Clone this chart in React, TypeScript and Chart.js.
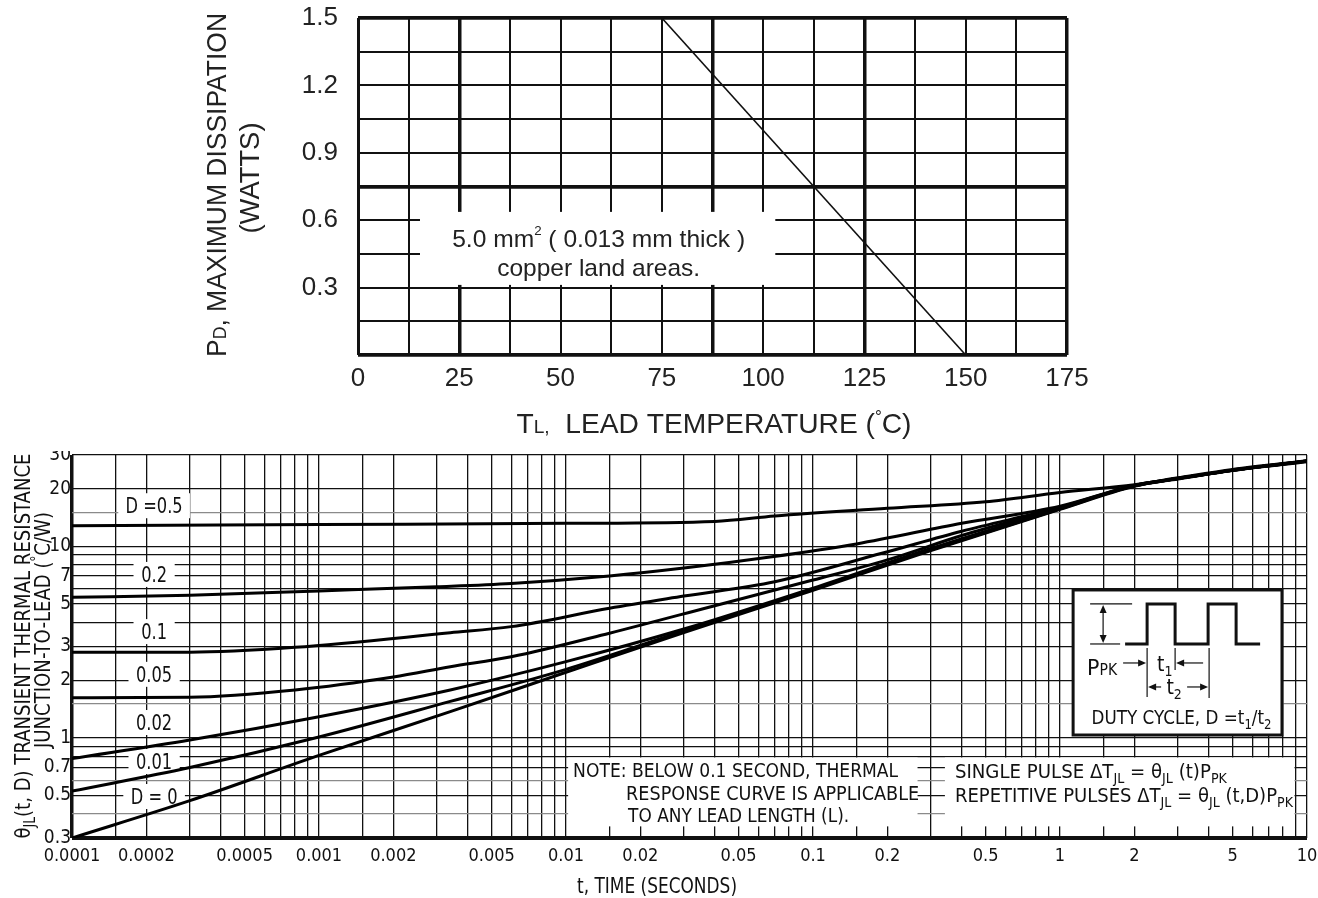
import React, { useEffect, useRef } from 'react';
import { Chart, registerables } from 'chart.js';

Chart.register(...registerables);

// ---------------- Top chart: power derating ----------------
const topTemps = [75, 150];
const topPower = [1.5, 0];
const topXGrid = [0, 12.5, 25, 37.5, 50, 62.5, 75, 87.5, 100, 112.5, 125, 137.5, 150, 162.5, 175];
const topXLabels = [0, 25, 50, 75, 100, 125, 150, 175];
const topXThick = [25, 87.5, 125, 175];
const topYGrid = [0, 0.15, 0.3, 0.45, 0.6, 0.75, 0.9, 1.05, 1.2, 1.35, 1.5];
const topYLabels = [0.3, 0.6, 0.9, 1.2, 1.5];
const topYThick = [0, 0.75, 1.5];

// ---------------- Bottom chart: transient thermal resistance ----------------
const gridMantissas = [1, 1.5, 2, 3, 4, 5, 6, 7, 8, 9];
const timeDecades = [0.0001, 0.001, 0.01, 0.1, 1];
const timeLabels = [0.0001, 0.0002, 0.0005, 0.001, 0.002, 0.005, 0.01, 0.02, 0.05, 0.1, 0.2, 0.5, 1, 2, 5, 10];
const resistGrid = [0.3, 0.4, 0.5, 0.6, 0.7, 0.8, 0.9, 1, 1.5, 2, 3, 4, 5, 6, 7, 8, 9, 10, 15, 20, 30];
const resistLabels = [0.3, 0.5, 0.7, 1, 2, 3, 5, 7, 10, 20, 30];
const resistGray = [0.4, 0.6, 1.5, 15];

const dutyNames = ['D =0.5', '0.2', '0.1', '0.05', '0.02', '0.01', 'D = 0'];

const timeD05 = [0.0001, 0.001, 0.01, 0.04, 0.07, 0.2, 0.5, 1, 2, 3, 5, 10];
const resD05 = [12.8, 13.0, 13.2, 13.5, 14.4, 15.8, 17.1, 19.1, 21.0, 22.8, 25.2, 28.0];

const timeD02 = [0.0001, 0.0003, 0.001, 0.003, 0.006, 0.015, 0.03, 0.067, 0.15, 0.4, 1, 2, 3, 5, 10];
const resD02 = [5.42, 5.55, 5.85, 6.15, 6.4, 7.0, 7.7, 8.8, 10.3, 13.2, 16.2, 20.8, 22.6, 25.0, 27.9];

const timeD01 = [0.0001, 0.0003, 0.0008, 0.0034, 0.006, 0.015, 0.03, 0.07, 0.19, 0.4, 1, 2, 3, 5, 10];
const resD01 = [2.8, 2.8, 2.97, 3.54, 3.81, 4.75, 5.5, 6.54, 9.2, 12.0, 16.0, 20.8, 22.6, 25.0, 27.9];

const timeD005 = [0.0001, 0.0003, 0.0008, 0.002, 0.0034, 0.006, 0.015, 0.04, 0.1, 0.2, 0.4, 1, 2, 3, 5, 10];
const resD005 = [1.62, 1.63, 1.78, 2.08, 2.35, 2.65, 3.52, 4.9, 6.67, 8.5, 11.4, 15.9, 20.7, 22.6, 25.0, 27.9];

const timeD002 = [0.0001, 0.0003, 0.001, 0.0034, 0.01, 0.03, 0.1, 0.3, 1, 2, 3, 5, 10];
const resD002 = [0.78, 0.975, 1.29, 1.78, 2.5, 3.7, 6.05, 9.75, 15.8, 20.7, 22.6, 25.0, 27.8];

const timeD001 = [0.0001, 0.0003, 0.001, 0.0034, 0.01, 0.03, 0.1, 0.3, 1, 2, 3, 5, 10];
const resD001 = [0.527, 0.7, 1.01, 1.55, 2.28, 3.62, 5.98, 9.6, 15.7, 20.7, 22.6, 25.0, 27.8];

const timeD0 = [0.0001, 0.0003, 0.001, 0.0034, 0.01, 0.03, 0.1, 0.3, 1, 2, 3, 5, 10];
const resD0 = [0.3, 0.47, 0.81, 1.37, 2.2, 3.55, 5.9, 9.5, 15.6, 20.6, 22.5, 24.9, 27.7];

const dutyTimes = [timeD05, timeD02, timeD01, timeD005, timeD002, timeD001, timeD0];
const dutyRes = [resD05, resD02, resD01, resD005, resD002, resD001, resD0];

const labelTime = 0.000215;
const labelRes = [16.4, 7.18, 3.61, 2.16, 1.21, 0.757, 0.497];

// ---------------- helpers ----------------
const SANS = "'Liberation Sans', Arial, Helvetica, sans-serif";
const NARROW = "'Liberation Sans Narrow', 'Arial Narrow', 'DejaVu Sans Condensed', 'Liberation Sans', sans-serif";
const INK = '#111';

function inList(v: number, list: number[]): boolean {
  for (const l of list) {
    if (l === 0 ? v === 0 : Math.abs(v - l) <= Math.abs(l) * 1e-6) return true;
  }
  return false;
}
function labelOf(v: number, list: number[]): string {
  for (const l of list) {
    if (l === 0 ? v === 0 : Math.abs(v - l) <= Math.abs(l) * 1e-6) return String(l);
  }
  return '';
}

type Seg = { t: string; s: number; dy?: number };

function richWidth(ctx: CanvasRenderingContext2D, segs: Seg[], family: string) {
  let total = 0;
  for (const sg of segs) {
    ctx.font = `${sg.s}px ${family}`;
    total += ctx.measureText(sg.t).width;
  }
  return total;
}

// draws a run of text segments; if targetW is given, the run is squeezed/stretched horizontally to it
function drawRich(
  ctx: CanvasRenderingContext2D,
  segs: Seg[],
  x: number,
  y: number,
  family: string,
  align: 'left' | 'center' | 'right' = 'left',
  targetW?: number,
) {
  const natural = richWidth(ctx, segs, family);
  const k = targetW ? targetW / natural : 1;
  const total = natural * k;
  const startX = align === 'left' ? x : align === 'center' ? x - total / 2 : x - total;
  ctx.save();
  ctx.translate(startX, y);
  ctx.scale(k, 1);
  ctx.textAlign = 'left';
  ctx.textBaseline = 'alphabetic';
  let cx = 0;
  for (const sg of segs) {
    ctx.font = `${sg.s}px ${family}`;
    ctx.fillText(sg.t, cx, sg.dy || 0);
    cx += ctx.measureText(sg.t).width;
  }
  ctx.restore();
}

function drawRotated(
  ctx: CanvasRenderingContext2D,
  segs: Seg[],
  cx: number,
  cy: number,
  family: string,
  capSize: number,
  targetW?: number,
) {
  ctx.save();
  ctx.translate(cx, cy);
  ctx.rotate(-Math.PI / 2);
  drawRich(ctx, segs, 0, capSize * 0.36, family, 'center', targetW);
  ctx.restore();
}

function line(ctx: CanvasRenderingContext2D, x1: number, y1: number, x2: number, y2: number) {
  ctx.beginPath();
  ctx.moveTo(x1, y1);
  ctx.lineTo(x2, y2);
  ctx.stroke();
}

function head(ctx: CanvasRenderingContext2D, x: number, y: number, dir: 'l' | 'r' | 'u' | 'd') {
  const L = 8;
  const W = 3.5;
  ctx.beginPath();
  ctx.moveTo(x, y);
  if (dir === 'r') { ctx.lineTo(x - L, y - W); ctx.lineTo(x - L, y + W); }
  if (dir === 'l') { ctx.lineTo(x + L, y - W); ctx.lineTo(x + L, y + W); }
  if (dir === 'u') { ctx.lineTo(x - W, y + L); ctx.lineTo(x + W, y + L); }
  if (dir === 'd') { ctx.lineTo(x - W, y - L); ctx.lineTo(x + W, y - L); }
  ctx.closePath();
  ctx.fill();
}

// ---------------- top chart config ----------------
function topConfig(): any {
  const decor = {
    id: 'topDecor',
    beforeDatasetsDraw(chart: any) {
      const { ctx } = chart;
      const xs = chart.scales.x;
      const ys = chart.scales.y;
      const x0 = xs.getPixelForValue(15.3);
      const x1 = xs.getPixelForValue(103);
      const y0 = ys.getPixelForValue(0.637);
      const y1 = ys.getPixelForValue(0.312);
      ctx.save();
      ctx.fillStyle = '#fff';
      ctx.fillRect(x0, y0, x1 - x0, y1 - y0);
      ctx.fillStyle = '#222';
      const mid = (x0 + x1) / 2 + 1;
      drawRich(ctx, [
        { t: '5.0 mm', s: 24 },
        { t: '2', s: 13, dy: -12 },
        { t: ' ( 0.013 mm thick )', s: 24 },
      ], mid, y0 + 35, SANS, 'center', 293);
      drawRich(ctx, [{ t: 'copper land areas.', s: 24 }], mid, y0 + 64, SANS, 'center', 203);
      ctx.restore();
    },
    afterDraw(chart: any) {
      const { ctx } = chart;
      ctx.save();
      ctx.fillStyle = '#222';
      drawRich(ctx, [
        { t: 'T', s: 28 },
        { t: 'L,', s: 19 },
        { t: '  LEAD TEMPERATURE (', s: 28 },
        { t: '°', s: 17, dy: -11 },
        { t: 'C)', s: 28 },
      ], 714, 433, SANS, 'center', 395);
      drawRotated(ctx, [
        { t: 'P', s: 27 },
        { t: 'D', s: 18 },
        { t: ', MAXIMUM DISSIPATION', s: 27 },
      ], 216, 185, SANS, 27, 344);
      drawRotated(ctx, [{ t: '(WATTS)', s: 27 }], 249, 178, SANS, 27, 111);
      ctx.restore();
    },
  };

  return {
    type: 'line',
    data: {
      datasets: [
        {
          data: topTemps.map((t, i) => ({ x: t, y: topPower[i] })),
          borderColor: INK,
          borderWidth: 1.6,
          pointRadius: 0,
          fill: false,
        },
      ],
    },
    options: {
      responsive: false,
      animation: false,
      devicePixelRatio: 1,
      layout: { padding: { left: 298, right: 251, top: 18, bottom: 25 } },
      plugins: { legend: { display: false }, tooltip: { enabled: false } },
      scales: {
        x: {
          type: 'linear',
          min: 0,
          max: 175,
          afterBuildTicks: (s: any) => { s.ticks = topXGrid.map((v) => ({ value: v })); },
          afterFit: (s: any) => { s.height = 60; s.paddingLeft = 0; s.paddingRight = 0; s.paddingTop = 0; s.paddingBottom = 0; },
          border: { display: false },
          grid: {
            drawTicks: false,
            color: INK,
            lineWidth: (c: any) => (c.tick && inList(c.tick.value, topXThick) ? 3.5 : c.tick && c.tick.value === 0 ? 3 : 2),
          },
          ticks: {
            autoSkip: false,
            maxRotation: 0,
            minRotation: 0,
            padding: 8,
            color: '#222',
            font: { family: SANS, size: 26 },
            callback: (v: any) => labelOf(Number(v), topXLabels),
          },
        },
        y: {
          type: 'linear',
          min: 0,
          max: 1.5,
          afterBuildTicks: (s: any) => { s.ticks = topYGrid.map((v) => ({ value: v })); },
          afterFit: (s: any) => { s.width = 60; s.paddingLeft = 0; s.paddingRight = 0; s.paddingTop = 0; s.paddingBottom = 0; },
          border: { display: false },
          grid: {
            drawTicks: false,
            color: INK,
            lineWidth: (c: any) => (c.tick && inList(c.tick.value, topYThick) ? 3.8 : 2),
          },
          ticks: {
            autoSkip: false,
            padding: 20,
            color: '#222',
            font: { family: SANS, size: 26 },
            callback: (v: any) => labelOf(Number(v), topYLabels),
          },
        },
      },
    },
    plugins: [decor],
  };
}

// ---------------- bottom chart config ----------------
function botConfig(): any {
  const timeGrid: number[] = [];
  for (const d of timeDecades) for (const m of gridMantissas) timeGrid.push(Number((m * d).toPrecision(6)));
  timeGrid.push(10);

  const decor = {
    id: 'botDecor',
    beforeDatasetsDraw(chart: any) {
      const { ctx } = chart;
      const xs = chart.scales.x;
      const ys = chart.scales.y;
      ctx.save();
      ctx.fillStyle = '#fff';
      // curve label backgrounds
      ctx.font = `20px ${NARROW}`;
      dutyNames.forEach((name, i) => {
        const px = xs.getPixelForValue(labelTime);
        const py = ys.getPixelForValue(labelRes[i]);
        const w = ctx.measureText(name).width * 0.88;
        ctx.fillRect(px - w / 2 - 8, py - 12, w + 16, 25);
      });
      // note boxes
      const yTop = ys.getPixelForValue(0.79);
      const yBot = ys.getPixelForValue(0.345);
      const n0 = xs.getPixelForValue(0.0102);
      const n1 = xs.getPixelForValue(0.265);
      ctx.fillRect(n0, yTop, n1 - n0, yBot - yTop);
      const r0 = xs.getPixelForValue(0.342);
      const r1 = xs.getPixelForValue(8.9);
      ctx.fillRect(r0, yTop, r1 - r0, yBot - yTop);
      ctx.restore();
    },
    afterDatasetsDraw(chart: any) {
      const { ctx } = chart;
      const xs = chart.scales.x;
      const ys = chart.scales.y;
      const off = chart.canvas.offsetTop || 451;
      ctx.save();
      ctx.fillStyle = INK;
      ctx.strokeStyle = INK;
      // curve labels
      dutyNames.forEach((name, i) => {
        drawRich(ctx, [{ t: name, s: 21 }], xs.getPixelForValue(labelTime), ys.getPixelForValue(labelRes[i]) + 8, NARROW, 'center',
          richWidth(ctx, [{ t: name, s: 21 }], NARROW) * 0.86);
      });

      // note texts
      const nx = xs.getPixelForValue(0.0102);
      drawRich(ctx, [{ t: 'NOTE: BELOW 0.1 SECOND, THERMAL', s: 20 }], nx + 5, 777 - off, NARROW, 'left', 325);
      drawRich(ctx, [{ t: 'RESPONSE CURVE IS APPLICABLE', s: 20 }], nx + 58, 800 - off, NARROW, 'left', 293);
      drawRich(ctx, [{ t: 'TO ANY LEAD LENGTH (L).', s: 20 }], nx + 60, 822 - off, NARROW, 'left', 221);

      const rx = xs.getPixelForValue(0.342);
      drawRich(ctx, [
        { t: 'SINGLE PULSE \u0394T', s: 20 },
        { t: 'JL', s: 14, dy: 5 },
        { t: ' = \u03b8', s: 20 },
        { t: 'JL', s: 14, dy: 5 },
        { t: ' (t)P', s: 20 },
        { t: 'PK', s: 14, dy: 5 },
      ], rx + 10, 778 - off, NARROW, 'left', 272);
      drawRich(ctx, [
        { t: 'REPETITIVE PULSES \u0394T', s: 20 },
        { t: 'JL', s: 14, dy: 5 },
        { t: ' = \u03b8', s: 20 },
        { t: 'JL', s: 14, dy: 5 },
        { t: ' (t,D)P', s: 20 },
        { t: 'PK', s: 14, dy: 5 },
      ], rx + 10, 802 - off, NARROW, 'left', 338);

      // duty cycle inset
      const L = xs.getPixelForValue(1.13);
      const R = xs.getPixelForValue(7.92);
      const T = ys.getPixelForValue(5.92);
      const B = ys.getPixelForValue(1.035);
      ctx.fillStyle = '#fff';
      ctx.fillRect(L, T, R - L, B - T);
      ctx.fillStyle = INK;
      ctx.lineWidth = 3;
      ctx.strokeRect(L, T, R - L, B - T);
      // waveform
      ctx.lineWidth = 3;
      ctx.lineJoin = 'miter';
      ctx.beginPath();
      ctx.moveTo(L + 52, T + 54);
      ctx.lineTo(L + 74, T + 54);
      ctx.lineTo(L + 74, T + 14);
      ctx.lineTo(L + 102, T + 14);
      ctx.lineTo(L + 102, T + 54);
      ctx.lineTo(L + 135, T + 54);
      ctx.lineTo(L + 135, T + 14);
      ctx.lineTo(L + 163, T + 14);
      ctx.lineTo(L + 163, T + 54);
      ctx.lineTo(L + 187, T + 54);
      ctx.stroke();
      // thin construction lines
      ctx.lineWidth = 1.2;
      line(ctx, L + 17, T + 14, L + 59, T + 14);
      line(ctx, L + 17, T + 54, L + 47, T + 54);
      line(ctx, L + 30, T + 20, L + 30, T + 48);
      head(ctx, L + 30, T + 15, 'u');
      head(ctx, L + 30, T + 53, 'd');
      line(ctx, L + 74, T + 58, L + 74, T + 107);
      line(ctx, L + 102, T + 58, L + 102, T + 80);
      line(ctx, L + 136, T + 58, L + 136, T + 108);
      line(ctx, L + 50, T + 73, L + 66, T + 73);
      head(ctx, L + 73, T + 73, 'r');
      line(ctx, L + 110, T + 73, L + 130, T + 73);
      head(ctx, L + 103, T + 73, 'l');
      line(ctx, L + 81, T + 97, L + 88, T + 97);
      head(ctx, L + 75, T + 97, 'l');
      line(ctx, L + 114, T + 97, L + 128, T + 97);
      head(ctx, L + 135, T + 97, 'r');
      drawRich(ctx, [{ t: 'P', s: 22 }, { t: 'PK', s: 15 }], L + 14, T + 85, NARROW, 'left', 30);
      drawRich(ctx, [{ t: 't', s: 21 }, { t: '1', s: 14, dy: 5 }], L + 84, T + 81, NARROW, 'left');
      drawRich(ctx, [{ t: 't', s: 21 }, { t: '2', s: 14, dy: 5 }], L + 101, T + 104, NARROW, 'center');
      drawRich(ctx, [
        { t: 'DUTY CYCLE, D =t', s: 20 },
        { t: '1', s: 14, dy: 5 },
        { t: '/t', s: 20 },
        { t: '2', s: 14, dy: 5 },
      ], (L + R) / 2 + 4, T + 134, NARROW, 'center', 180);
      ctx.restore();
    },
    afterDraw(chart: any) {
      const { ctx } = chart;
      const off = chart.canvas.offsetTop || 451;
      ctx.save();
      ctx.fillStyle = INK;
      drawRich(ctx, [{ t: 't, TIME (SECONDS)', s: 21 }], 657, 893 - off, NARROW, 'center', 160);
      drawRotated(ctx, [
        { t: '\u03b8', s: 22 },
        { t: 'JL', s: 15, dy: 5 },
        { t: '(t, D) TRANSIENT THERMAL RESISTANCE', s: 22 },
      ], 22, 646 - off, NARROW, 22, 385);
      drawRotated(ctx, [
        { t: 'JUNCTION-TO-LEAD (', s: 22 },
        { t: '°', s: 14, dy: -9 },
        { t: 'C/W)', s: 22 },
      ], 42, 630 - off, NARROW, 22, 236);
      ctx.restore();
    },
  };

  return {
    type: 'line',
    data: {
      datasets: dutyNames.map((name, i) => ({
        label: name,
        data: dutyTimes[i].map((t, j) => ({ x: t, y: dutyRes[i][j] })),
        borderColor: '#000',
        borderWidth: 3,
        pointRadius: 0,
        fill: false,
        cubicInterpolationMode: 'monotone',
      })),
    },
    options: {
      responsive: false,
      animation: false,
      devicePixelRatio: 1,
      layout: { padding: { left: 0, right: 11, top: 4, bottom: 0 } },
      plugins: { legend: { display: false }, tooltip: { enabled: false } },
      scales: {
        x: {
          type: 'logarithmic',
          min: 0.0001,
          max: 10,
          afterBuildTicks: (s: any) => { s.ticks = timeGrid.map((v) => ({ value: v })); },
          afterFit: (s: any) => { s.height = 60; s.paddingLeft = 0; s.paddingRight = 0; s.paddingTop = 0; s.paddingBottom = 0; },
          border: { display: false },
          grid: {
            drawTicks: false,
            color: INK,
            lineWidth: (c: any) => (c.index === 0 ? 3.5 : 1.3),
          },
          ticks: {
            autoSkip: false,
            maxRotation: 0,
            minRotation: 0,
            padding: 8,
            color: INK,
            font: { family: NARROW, size: 18 },
            callback: (v: any) => labelOf(Number(v), timeLabels),
          },
        },
        y: {
          type: 'logarithmic',
          min: 0.3,
          max: 30,
          afterBuildTicks: (s: any) => { s.ticks = resistGrid.map((v) => ({ value: v })); },
          afterFit: (s: any) => { s.width = 72; s.paddingLeft = 0; s.paddingRight = 0; s.paddingTop = 0; s.paddingBottom = 0; },
          border: { display: false },
          grid: {
            drawTicks: false,
            color: (c: any) => (c.tick && inList(c.tick.value, resistGray) ? '#8a8a8a' : INK),
            lineWidth: (c: any) => (c.index === 0 ? 4 : 1.3),
          },
          ticks: {
            autoSkip: false,
            padding: 1,
            color: INK,
            font: { family: NARROW, size: 19 },
            callback: (v: any) => labelOf(Number(v), resistLabels),
          },
        },
      },
    },
    plugins: [decor],
  };
}

export default function App() {
  const topRef = useRef<HTMLCanvasElement>(null);
  const botRef = useRef<HTMLCanvasElement>(null);
  useEffect(() => {
    const c1 = new Chart(topRef.current as HTMLCanvasElement, topConfig());
    const c2 = new Chart(botRef.current as HTMLCanvasElement, botConfig());
    return () => {
      c1.destroy();
      c2.destroy();
    };
  }, []);
  return (
    <div style={{ position: 'absolute', left: 0, top: 0, width: 1318, height: 898, background: '#fff', overflow: 'hidden' }}>
      <canvas ref={topRef} width={1318} height={440} style={{ position: 'absolute', left: 0, top: 0, width: 1318, height: 440 }} />
      <canvas ref={botRef} width={1318} height={447} style={{ position: 'absolute', left: 0, top: 451, width: 1318, height: 447 }} />
    </div>
  );
}
